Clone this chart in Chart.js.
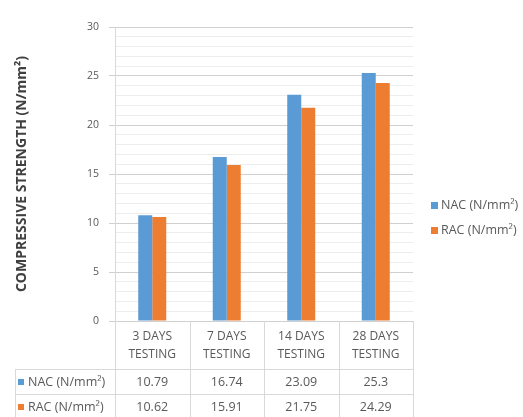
<!DOCTYPE html>
<html>
<head>
<meta charset="utf-8">
<script src="https://cdn.jsdelivr.net/npm/chart.js@4/dist/chart.umd.min.js"></script>
<style>
  html, body { margin: 0; padding: 0; background: #ffffff; }
  #wrap { width: 523px; height: 417px; }
</style>
</head>
<body>
<div id="wrap"><canvas id="c" width="523" height="417"></canvas></div>
<script>
// Compressive strength of natural (NAC) and recycled (RAC) aggregate concrete
const categories = [['3 DAYS', 'TESTING'], ['7 DAYS', 'TESTING'], ['14 DAYS', 'TESTING'], ['28 DAYS', 'TESTING']];
const seriesNames = ['NAC (N/mm²)', 'RAC (N/mm²)'];
const nacValues = [10.79, 16.74, 23.09, 25.3];
const racValues = [10.62, 15.91, 21.75, 24.29];
const yMin = 0;
const yMax = 30;
const yMajorStep = 5;
const yMinorStep = 1;
const yTitle = 'COMPRESSIVE STRENGTH (N/mm²)';

const seriesColors = ['#5B9BD5', '#ED7D31'];
const textColor = '#595959';
const lineColor = '#d9d9d9';
const fontFamily = '"Open Sans", Lato, "Liberation Sans", sans-serif';

const isMajor = v => Math.abs(v % yMajorStep) < 1e-9;

// Data table under the axis plus the side legend
const tableAndLegend = {
  id: 'tableAndLegend',
  afterDraw(chart) {
    const ctx = chart.ctx;
    const x = chart.scales.x;
    const area = chart.chartArea;
    const H = chart.height;
    const n = categories.length;
    const catW = (x.right - x.left) / n;
    const headerBottom = area.bottom + 48;
    const rowH = 25;
    const tableLeft = 15;

    ctx.save();
    ctx.strokeStyle = lineColor;
    ctx.lineWidth = 1;
    ctx.beginPath();
    for (let i = 0; i <= n; i++) {
      const px = Math.round(x.left + i * catW) + 0.5;
      ctx.moveTo(px, area.bottom);
      ctx.lineTo(px, H);
    }
    ctx.moveTo(tableLeft + 0.5, headerBottom);
    ctx.lineTo(tableLeft + 0.5, H);
    for (let r = 0; r < 2; r++) {
      const py = Math.round(headerBottom + r * rowH) + 0.5;
      ctx.moveTo(tableLeft, py);
      ctx.lineTo(x.right, py);
    }
    ctx.stroke();

    const rows = [nacValues, racValues];
    ctx.font = '12.5px ' + fontFamily;
    ctx.textBaseline = 'middle';
    rows.forEach((vals, r) => {
      const cy = headerBottom + r * rowH + rowH / 2 + 0.5;
      ctx.fillStyle = seriesColors[r];
      ctx.fillRect(tableLeft + 3, Math.round(cy) - 3, 6, 6);
      ctx.fillStyle = textColor;
      ctx.textAlign = 'left';
      ctx.fillText(seriesNames[r], tableLeft + 13, cy);
      ctx.textAlign = 'center';
      vals.forEach((v, i) => {
        ctx.fillText(String(v), x.getPixelForValue(i), cy);
      });
    });

    // legend at the right
    const lx = 431;
    const ly0 = 205;
    seriesNames.forEach((name, r) => {
      const cy = ly0 + r * 25;
      ctx.fillStyle = seriesColors[r];
      ctx.fillRect(lx, cy - 3, 7, 7);
      ctx.fillStyle = textColor;
      ctx.textAlign = 'left';
      ctx.fillText(name, lx + 10, cy + 0.5);
    });
    ctx.restore();
  }
};

new Chart(document.getElementById('c'), {
  type: 'bar',
  data: {
    labels: categories,
    datasets: [
      { label: seriesNames[0], data: nacValues, backgroundColor: seriesColors[0] },
      { label: seriesNames[1], data: racValues, backgroundColor: seriesColors[1] }
    ]
  },
  options: {
    responsive: false,
    animation: false,
    devicePixelRatio: 1,
    layout: { padding: { left: 0, right: 110, top: 27, bottom: 48 } },
    datasets: { bar: { categoryPercentage: 0.376, barPercentage: 1.0 } },
    plugins: { legend: { display: false }, tooltip: { enabled: false } },
    scales: {
      x: {
        afterFit: s => { s.height = 48; },
        grid: { display: false, drawTicks: false },
        border: { display: false },
        ticks: {
          color: textColor,
          font: { family: fontFamily, size: 12, lineHeight: 1.5 },
          padding: 7,
          maxRotation: 0,
          autoSkip: false
        }
      },
      y: {
        min: yMin,
        max: yMax,
        afterFit: s => { s.width = 115; },
        grid: {
          color: c => isMajor(c.tick.value) ? '#d0d0d0' : '#ededed',
          tickColor: c => isMajor(c.tick.value) ? '#d0d0d0' : 'rgba(0,0,0,0)',
          tickLength: 6
        },
        border: { display: true, color: lineColor },
        ticks: {
          stepSize: yMinorStep,
          autoSkip: false,
          color: textColor,
          padding: 10,
          font: { family: fontFamily, size: 10.5 },
          callback: v => isMajor(v) ? String(v) : ''
        },
        title: {
          display: true,
          text: yTitle,
          color: '#404040',
          font: { family: fontFamily, size: 14, weight: 'bold' },
          padding: { top: 14, bottom: 0 }
        }
      }
    }
  },
  plugins: [tableAndLegend]
});
</script>
</body>
</html>
